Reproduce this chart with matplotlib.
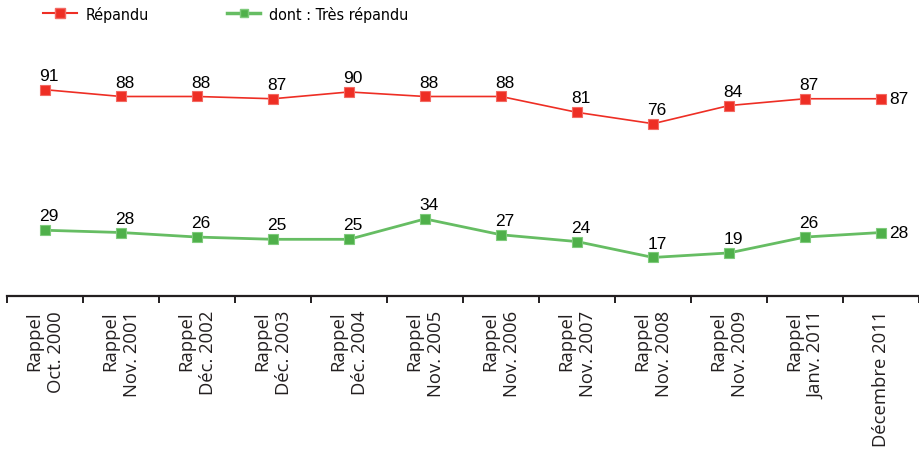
from matplotlib import pyplot as plt
from matplotlib.lines import Line2D
import numpy as np

dates = ['Rappel\nOct. 2000', 'Rappel\nNov. 2001', 'Rappel\nDéc. 2002', 'Rappel\nDéc. 2003',
         'Rappel\nDéc. 2004', 'Rappel\nNov. 2005', 'Rappel\nNov. 2006', 'Rappel\nNov. 2007',
         'Rappel\nNov. 2008', 'Rappel\nNov. 2009', 'Rappel\nJanv. 2011', 'Décembre 2011']
repandu = [91, 88, 88, 87, 90, 88, 88, 81, 76, 84, 87, 87]
tres_repandu = [29, 28, 26, 25, 25, 34, 27, 24, 17, 19, 26, 28]

red = '#EE2E24'
green = '#66BD63'

fig = plt.figure(figsize=(9.2, 4.56), dpi=100)
ax = fig.add_axes([0.0076, 0.3487, 0.9914, 0.6513])

x = np.arange(len(dates))
ax.plot(x, repandu, color=red, lw=1.2, marker='s', ms=7, mfc=red, mec='#F36A63', mew=0.8)
ax.plot(x, tres_repandu, color=green, lw=2, marker='s', ms=7, mfc='#4FB04A', mec='#7FCB7C', mew=0.8)

for i in range(len(x)):
    if i == len(x) - 1:
        ax.annotate(str(repandu[i]), (x[i], repandu[i]), xytext=(6, 0), textcoords='offset points',
                    ha='left', va='center', fontsize=12.5, family='Liberation Sans')
        ax.annotate(str(tres_repandu[i]), (x[i], tres_repandu[i]), xytext=(6, 0), textcoords='offset points',
                    ha='left', va='center', fontsize=12.5, family='Liberation Sans')
    else:
        ax.annotate(str(repandu[i]), (x[i], repandu[i]), xytext=(3, 5), textcoords='offset points',
                    ha='center', va='bottom', fontsize=12.5, family='Liberation Sans')
        ax.annotate(str(tres_repandu[i]), (x[i], tres_repandu[i]), xytext=(3, 5), textcoords='offset points',
                    ha='center', va='bottom', fontsize=12.5, family='Liberation Sans')

ax.set_xlim(-0.5, len(dates) - 0.5)
ax.set_ylim(0, 131)
for s in ['top', 'right', 'left']:
    ax.spines[s].set_visible(False)
ax.spines['bottom'].set_linewidth(1.6)
ax.spines['bottom'].set_color('#231F20')
ax.set_yticks([])
ax.set_xticks(x)
ax.set_xticklabels(dates, rotation=90, ha='center', va='top', multialignment='right',
                   fontsize=13.3, family='Open Sans', color='#231F20', linespacing=1.3)
ax.tick_params(axis='x', which='major', length=0, pad=10)
ax.set_xticks(np.arange(-0.5, len(dates)), minor=True)
ax.tick_params(axis='x', which='minor', length=5, width=1.4, color='#231F20')

handles = [Line2D([], [], color=red, lw=1.5, marker='s', ms=7, mfc=red, mec='#F36A63'),
           Line2D([], [], color=green, lw=2.5, marker='s', ms=6, mfc='#4FB04A', mec='#7FCB7C')]
fig.legend(handles, ['Répandu', 'dont : Très répandu'], loc='upper left', bbox_to_anchor=(43 / 920, 0.985),
           ncol=2, frameon=False, borderpad=0, borderaxespad=0, columnspacing=4.9,
           handlelength=2.1, handletextpad=0.55,
           prop={'family': 'DejaVu Sans', 'stretch': 'condensed', 'size': 11.5})

fig.savefig('out.png', dpi=100)
